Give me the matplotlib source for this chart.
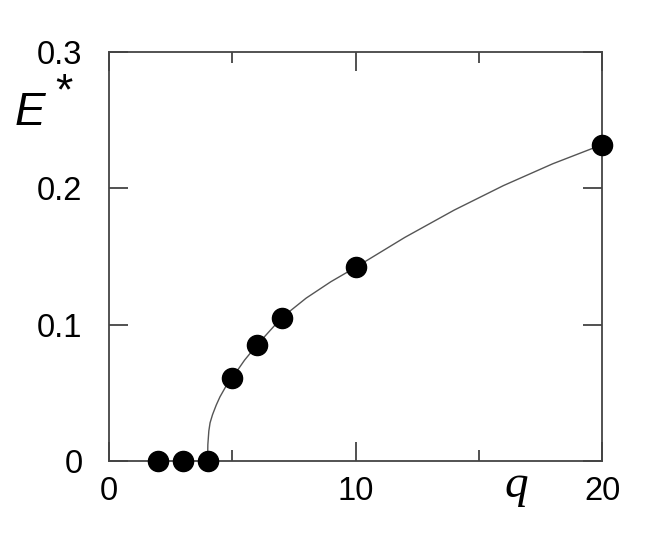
import matplotlib
matplotlib.use("Agg")
import matplotlib.pyplot as plt
from matplotlib.ticker import FixedLocator

# data points
q_pts = [2, 3, 4, 5, 6, 7, 10, 20]
E_pts = [0.0, 0.0, 0.0, 0.061, 0.085, 0.105, 0.142, 0.232]

# fitted curve
q_curve = [4.0, 4.01, 4.05, 4.1, 4.2, 4.35, 4.5, 4.75, 5.0, 5.5, 6.0, 6.5, 7.0,
           8.0, 9.0, 10.0, 11.0, 12.0, 13.0, 14.0, 15.0, 16.0, 17.0, 18.0, 19.0, 20.0]
E_curve = [0.0, 0.012, 0.022, 0.028, 0.034, 0.041, 0.047, 0.055, 0.061, 0.074, 0.085, 0.095, 0.105,
           0.1195, 0.1315, 0.142, 0.153, 0.164, 0.174, 0.184, 0.193, 0.202, 0.210, 0.218, 0.225, 0.232]

x_ticks = [0, 10, 20]
x_labels = ["0", "10", "20"]
y_ticks = [0, 0.1, 0.2, 0.3]
y_labels = ["0", "0.1", "0.2", "0.3"]

fig = plt.figure(figsize=(6.54, 5.45), dpi=100)
ax = fig.add_axes([109/654, 1-461/545, 493/654, 409/545])

ax.plot(q_curve, E_curve, color="#555555", lw=1.0, zorder=2)
ax.plot(q_pts, E_pts, "o", color="black", ms=14.5, clip_on=False, zorder=3)

ax.set_xlim(0, 20)
ax.set_ylim(0, 0.3)
ax.set_xticks(x_ticks)
ax.set_xticklabels(x_labels)
ax.xaxis.set_minor_locator(FixedLocator([5, 15]))
ax.set_yticks(y_ticks)
ax.set_yticklabels(y_labels)

for s in ax.spines.values():
    s.set_color("#444444")
    s.set_linewidth(1.3)

font = "Liberation Sans"
ax.tick_params(axis="both", which="major", direction="in", top=True, right=True,
               length=14, width=1.2, color="#333333", labelsize=23.5)
ax.tick_params(axis="both", which="minor", direction="in", top=True, right=True,
               length=8, width=1.2, color="#333333")
ax.tick_params(axis="x", pad=11)
ax.tick_params(axis="y", pad=19)
for lab in ax.get_xticklabels() + ax.get_yticklabels():
    lab.set_fontfamily(font)

fig.text(30/654, 1-113/545, "E", fontsize=33, style="italic", family=font,
         ha="center", va="center")
fig.text(64/654, 1-93/545, "*", fontsize=32, family=font,
         ha="center", va="center")
fig.text(516/654, 1-486/545, "q", fontsize=34, style="italic",
         family="Liberation Serif", ha="center", va="center")

fig.savefig("out.png", dpi=100)
